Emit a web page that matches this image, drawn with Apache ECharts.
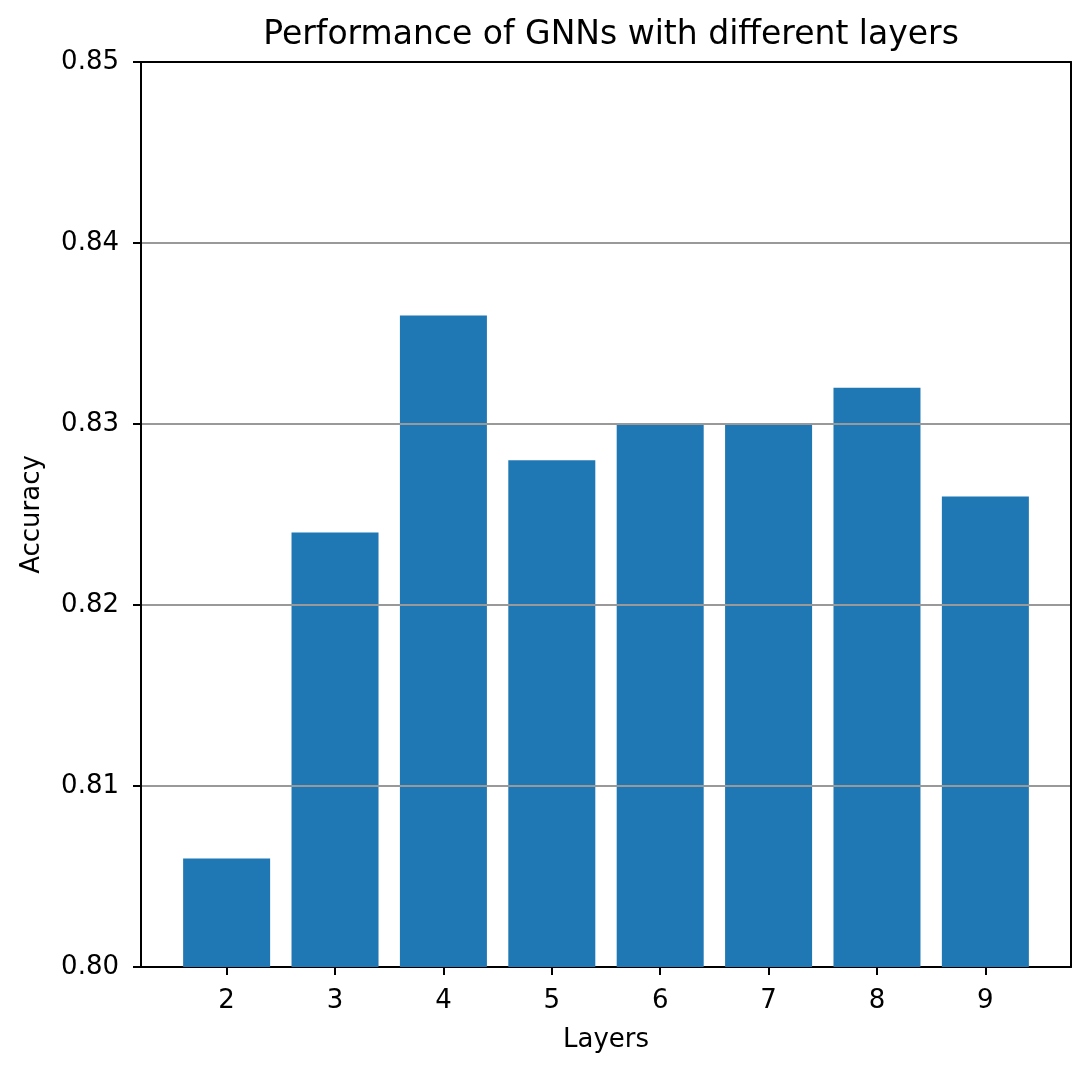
<!DOCTYPE html>
<html>
<head>
<meta charset="utf-8">
<script src="https://cdn.jsdelivr.net/npm/echarts@6/dist/echarts.min.js"></script>
<style>
  html, body { margin: 0; padding: 0; background: #fff; }
  #chart { width: 1090px; height: 1075px; }
</style>
</head>
<body>
<div id="chart"></div>
<script>
// layers on the x axis and accuracy per layer count
var layers = [2, 3, 4, 5, 6, 7, 8, 9]
var accuracy = [0.806, 0.824, 0.836, 0.828, 0.830, 0.830, 0.832, 0.826]
var yTicks = [0.80, 0.81, 0.82, 0.83, 0.84, 0.85]

var font = 'DejaVu Sans'
var chart = echarts.init(document.getElementById('chart'))

var option = {
  animation: false,
  backgroundColor: '#fff',
  textStyle: { fontFamily: font },
  title: {
    text: 'Performance of GNNs with different layers',
    left: 606,
    top: 14,
    textAlign: 'center',
    textStyle: { fontFamily: font, fontSize: 33, fontWeight: 'normal', color: '#000' }
  },
  grid: { left: 141, right: 19, top: 62, bottom: 108 },
  xAxis: [{
    type: 'value',
    min: 1.21,
    max: 9.79,
    name: 'Layers',
    nameLocation: 'middle',
    nameGap: 60,
    nameTextStyle: { fontFamily: font, fontSize: 26, color: '#000' },
    axisLine: { show: true, lineStyle: { color: '#000', width: 2 } },
    axisTick: { show: true, length: 8, lineStyle: { color: '#000', width: 2 }, customValues: layers },
    axisLabel: { fontFamily: font, fontSize: 26, color: '#000', margin: 21, customValues: layers },
    splitLine: { show: false }
  }, {
    type: 'value',
    position: 'top',
    min: 1.21,
    max: 9.79,
    axisLine: { show: true, lineStyle: { color: '#000', width: 2 } },
    axisTick: { show: false },
    axisLabel: { show: false },
    splitLine: { show: false }
  }],
  yAxis: [{
    type: 'value',
    min: 0.80,
    max: 0.85,
    interval: 0.01,
    z: 5,
    name: 'Accuracy',
    nameLocation: 'middle',
    nameGap: 96,
    nameTextStyle: { fontFamily: font, fontSize: 26, color: '#000' },
    axisLine: { show: true, lineStyle: { color: '#000', width: 2 } },
    axisTick: { show: true, length: 8, lineStyle: { color: '#000', width: 2 } },
    axisLabel: {
      fontFamily: font, fontSize: 26, color: '#000', margin: 22,
      formatter: function (v) { return v.toFixed(2) }
    },
    splitLine: {
      show: true,
      lineStyle: { color: '#999999', width: 2 },
      showMinLine: false,
      showMaxLine: false
    }
  }, {
    type: 'value',
    position: 'right',
    min: 0.80,
    max: 0.85,
    z: 6,
    axisLine: { show: true, lineStyle: { color: '#000', width: 2 } },
    axisTick: { show: false },
    axisLabel: { show: false },
    splitLine: { show: false }
  }],
  series: [{
    type: 'bar',
    xAxisIndex: 0,
    yAxisIndex: 0,
    barWidth: 87,
    itemStyle: { color: '#1f77b4' },
    data: layers.map(function (l, i) { return [l, accuracy[i]] })
  }]
}

chart.setOption(option)
</script>
</body>
</html>
